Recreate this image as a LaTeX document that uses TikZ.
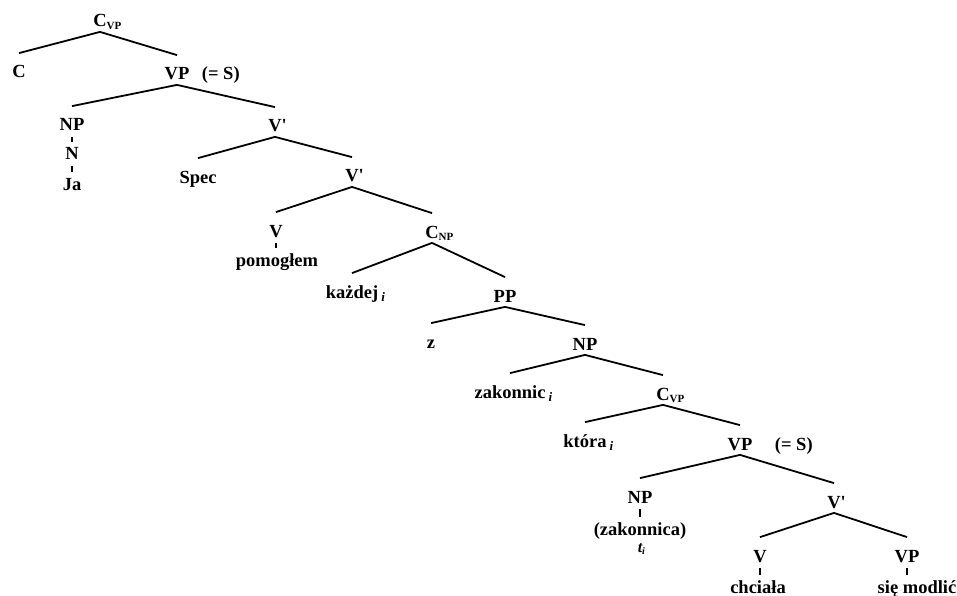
\documentclass[tikz,border=0pt]{standalone}
\usepackage{fontspec}
\setmainfont{Liberation Serif}
\usetikzlibrary{positioning}

\newcommand\catfont{\fontsize{18.5}{20}\selectfont\bfseries}
\newcommand\catsub[1]{\raisebox{-2.5pt}{\fontsize{11}{11}\selectfont #1}}
\newcommand\idx{\,\raisebox{-3pt}{\fontsize{13}{13}\selectfont\itshape i}}
\tikzset{cat/.style={anchor=base, inner sep=1pt, text height=12pt, text depth=3pt, font=\catfont}}

\begin{document}
\begin{tikzpicture}[x=1pt, y=1pt, every node/.style={cat}, line width=1.8pt]
    \useasboundingbox (0,0) rectangle (957,-596);

    % upper clause
    \node (cvp) at (100,-27) {C\rlap{\catsub{VP}}};
    \node (c) at (19,-78) {C};
    \node (vp) at (177,-80) {VP};
    \node[anchor=base west] (eqs) at (200,-80) {(= S)};
    \node (np) at (72,-131) {NP};
    \node (n) at (72,-160) {N};
    \node (ja) at (72,-190) {Ja};
    \node (vbar) at (275,-132) {V\rlap{\textquotesingle}};
    \node (spec) at (198,-183) {Spec};
    \node (vbarb) at (352,-182) {V\rlap{\textquotesingle}};
    \node (v) at (276,-237) {V};
    \node (pomoglem) at (277,-266) {pomogłem};
    \node (cnp) at (432,-238) {C\rlap{\catsub{NP}}};
    \node (kazdej) at (352,-298) {każdej\rlap{\idx}};
    \node (pp) at (505,-302) {PP};
    \node (z) at (431,-348) {z};
    \node (npb) at (585,-350) {NP};
    \node (zakonnic) at (510,-398) {zakonnic\rlap{\idx}};

    % relative clause
    \node (cvpb) at (663,-400) {C\rlap{\catsub{VP}}};
    \node (ktora) at (585,-447) {która\rlap{\idx}};
    \node (vpb) at (740,-450) {VP};
    \node[anchor=base west] (eqsb) at (773,-450) {(= S)};
    \node (npc) at (640,-503) {NP};
    \node (zakonnica) at (640,-535) {(zakonnica)};
    \node[text height=9pt, text depth=2pt] (trace) at (640,-552) {\fontsize{16}{16}\selectfont\itshape t\rlap{\raisebox{-2pt}{\fontsize{10}{10}\selectfont i}}};
    \node (vbarc) at (834,-508) {V\rlap{\textquotesingle}};
    \node (vb) at (760,-562) {V};
    \node (chciala) at (758,-593) {chciała};
    \node (vpc) at (907,-562) {VP};
    \node (modlic) at (917,-593) {się modlić};

    % branches
    \foreach \p/\c in {cvp/c, cvp/vp, vp/np, vp/vbar, vbar/spec, vbar/vbarb,
        vbarb/v, vbarb/cnp, cnp/kazdej, cnp/pp, pp/z, pp/npb, npb/zakonnic,
        npb/cvpb, cvpb/ktora, cvpb/vpb, vpb/npc, vpb/vbarc, vbarc/vb, vbarc/vpc}
    \draw (\p.south) -- ([yshift=11pt]\c.north);

    % unary branches
    \foreach \p/\c in {np/n, n/ja, v/pomoglem, npc/zakonnica, vb/chciala, vpc/modlic}
    \draw[line width=1.4pt, shorten <=1.5pt, shorten >=4pt] (\p.south) -- (\p.south |- \c.north);

\end{tikzpicture}
\end{document}
